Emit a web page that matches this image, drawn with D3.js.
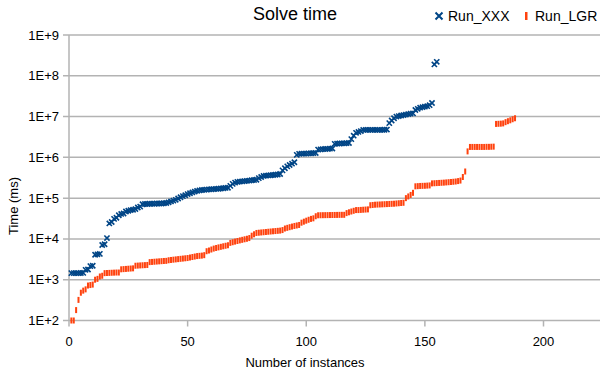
<!DOCTYPE html>
<html>
<head>
<meta charset="utf-8">
<script src="https://cdn.jsdelivr.net/npm/d3@7"></script>
<style>
  html, body { margin: 0; padding: 0; background: #fff; }
  svg { display: block; }
  text { font-family: "Liberation Sans", Arial, sans-serif; fill: #000; }
</style>
</head>
<body>
<svg id="chart" width="600" height="373"></svg>
<script>
// ---- data ----
const title = "Solve time";
const xTitle = "Number of instances";
const yTitle = "Time (ms)";
const seriesNames = ["Run_XXX", "Run_LGR"];
const xTicks = [0, 50, 100, 150, 200];
const yTicks = [1e2, 1e3, 1e4, 1e5, 1e6, 1e7, 1e8, 1e9];
const yTickLabels = ["1E+2", "1E+3", "1E+4", "1E+5", "1E+6", "1E+7", "1E+8", "1E+9"];

// Run_XXX solve times (ms), instance 1..155
const runXXX = [
  1450, 1450, 1450, 1450, 1460, 1470, 1750, 1780, 2150, 2200,
  4100, 4200, 4300, 7100, 7400, 10500, 24000, 26000, 31000, 33000,
  38000, 41000, 42000, 47000, 49000, 51000, 52000, 54000, 59000, 62000,
  71000, 72000, 72000, 73000, 73000, 73000, 74000, 74000, 74000, 75000,
  76000, 79000, 83000, 87000, 91000, 98000, 105000, 112000, 118000, 126000,
  132000, 138000, 145000, 151000, 155000, 158000, 160000, 162000, 164000, 165000,
  167000, 168000, 170000, 172000, 175000, 178000, 180000, 200000, 224000, 240000,
  251000, 255000, 258000, 262000, 266000, 270000, 274000, 278000, 282000, 310000,
  330000, 350000, 355000, 360000, 365000, 370000, 375000, 380000, 390000, 480000,
  540000, 600000, 650000, 700000, 760000, 1150000, 1220000, 1230000, 1230000, 1240000,
  1250000, 1260000, 1270000, 1280000, 1550000, 1570000, 1590000, 1600000, 1610000, 1630000,
  1650000, 2150000, 2170000, 2190000, 2200000, 2210000, 2230000, 2250000, 2800000, 3400000,
  4000000, 4200000, 4400000, 4700000, 4700000, 4700000, 4700000, 4700000, 4700000, 4700000,
  4700000, 4700000, 4750000, 4800000, 6900000, 8000000, 9100000, 10000000, 10300000, 10600000,
  10900000, 11200000, 11500000, 11800000, 12000000, 14500000, 15500000, 16500000, 17000000, 17500000,
  18000000, 19000000, 21500000, 190000000, 220000000
];

// Run_LGR solve times (ms), instance 1..188
const runLGR = [
  100, 100, 180, 320, 480, 540, 580, 720, 740, 760,
  1000, 1050, 1200, 1250, 1450, 1460, 1470, 1480, 1490, 1500, 1500,
  1800, 1820, 1840, 1860, 1880, 1900,
  2200, 2220, 2240, 2260, 2280, 2300,
  2700, 2730, 2760, 2790, 2820, 2850, 2880, 2900,
  3000, 3050, 3100, 3150, 3200, 3250, 3300, 3350, 3400, 3500, 3600, 3700, 3800, 3850, 3900, 4000,
  5000, 5200, 5500, 5800, 6000, 6200, 6400, 6600, 6800, 7000,
  8000, 8300, 8600, 8900, 9200, 9500, 9800, 10100, 10500,
  12000, 13000,
  14000, 14200, 14400, 14600, 14800, 15000, 15200, 15400, 15600, 15800, 16000, 16500,
  18000, 18700, 19400, 20100, 20800, 21400, 22000,
  25000, 26500, 28000, 29500, 31000, 32000, 36000,
  38000, 38100, 38200, 38300, 38400, 38500, 38600, 38700, 38800, 38900, 39000, 39000,
  43000, 45000, 47000, 49000, 51000,
  51000, 51500, 52000, 52500, 53000,
  67000, 68000, 69000, 69500, 70000, 70500, 71000, 71500, 72000, 72500, 73000, 74000, 75000, 76000, 77000,
  100000, 110000, 120000, 135000,
  195000, 197000, 199000, 200000, 201000, 203000, 205000,
  230000, 232000, 234000, 236000, 238000, 240000, 243000, 246000, 249000, 252000, 256000, 262000, 270000,
  330000, 450000, 1400000,
  1800000, 1800000, 1800000, 1800000, 1800000, 1800000, 1800000, 1810000, 1810000, 1820000, 1830000,
  6600000, 6650000, 6700000, 6800000,
  7300000, 7700000, 8100000, 8600000, 9100000
];

// ---- layout ----
const svg = d3.select("#chart");
const L = 69, R = 660, T = 35, B = 320.5;

const x = d3.scaleLinear().domain([0, 250]).range([L, L + (543.5 - L) * 250 / 200]);
const y = d3.scaleLog().domain([1e2, 1e9]).range([B, T]);

const gridColor = "#b3b3b3";

// gridlines
svg.append("g").selectAll("line").data(yTicks).join("line")
  .attr("x1", L - 6).attr("x2", 600)
  .attr("y1", d => y(d)).attr("y2", d => y(d))
  .attr("stroke", gridColor).attr("stroke-width", 1.5);

// y axis line
svg.append("line").attr("x1", L).attr("x2", L).attr("y1", T).attr("y2", B)
  .attr("stroke", gridColor).attr("stroke-width", 1.5);

// x ticks
svg.append("g").selectAll("line").data(xTicks).join("line")
  .attr("x1", d => x(d)).attr("x2", d => x(d))
  .attr("y1", B).attr("y2", B + 6)
  .attr("stroke", gridColor).attr("stroke-width", 1.5);

// y tick labels
svg.append("g").selectAll("text").data(yTicks).join("text")
  .attr("x", 59).attr("y", d => y(d) + 4.5)
  .attr("text-anchor", "end").attr("font-size", 13)
  .text((d, i) => yTickLabels[i]);

// x tick labels
svg.append("g").selectAll("text").data(xTicks).join("text")
  .attr("x", d => x(d)).attr("y", 346)
  .attr("text-anchor", "middle").attr("font-size", 13)
  .text(d => d);

// axis titles
svg.append("text").attr("x", 305).attr("y", 367).attr("text-anchor", "middle")
  .attr("font-size", 13).text(xTitle);
svg.append("text").attr("transform", "translate(18,206) rotate(-90)")
  .attr("text-anchor", "middle").attr("font-size", 13).text(yTitle);

// title
svg.append("text").attr("x", 295).attr("y", 20).attr("text-anchor", "middle")
  .attr("font-size", 18).text(title);

// series
const blue = "#004586", orange = "#ff420e";

const gB = svg.append("g");
runXXX.forEach((v, i) => {
  const cx = x(i + 1), cy = y(v), s = 2.6;
  gB.append("path")
    .attr("d", `M${cx - s},${cy - s}L${cx + s},${cy + s}M${cx - s},${cy + s}L${cx + s},${cy - s}`)
    .attr("stroke", blue).attr("stroke-width", 1.6).attr("fill", "none");
});

svg.append("g").selectAll("rect").data(runLGR).join("rect")
  .attr("x", (d, i) => x(i + 1) - 1).attr("y", d => y(d) - 3)
  .attr("width", 2).attr("height", 6).attr("fill", orange);

// legend
const lg = svg.append("g");
const lx = 439, ly = 16;
lg.append("path")
  .attr("d", `M${lx - 3.5},${ly - 3.5}L${lx + 3.5},${ly + 3.5}M${lx - 3.5},${ly + 3.5}L${lx + 3.5},${ly - 3.5}`)
  .attr("stroke", blue).attr("stroke-width", 2).attr("fill", "none");
lg.append("text").attr("x", 448).attr("y", 21).attr("font-size", 14).text(seriesNames[0]);
lg.append("rect").attr("x", 525).attr("y", 12).attr("width", 2.5).attr("height", 8).attr("fill", orange);
lg.append("text").attr("x", 535).attr("y", 21).attr("font-size", 14).text(seriesNames[1]);
</script>
</body>
</html>
